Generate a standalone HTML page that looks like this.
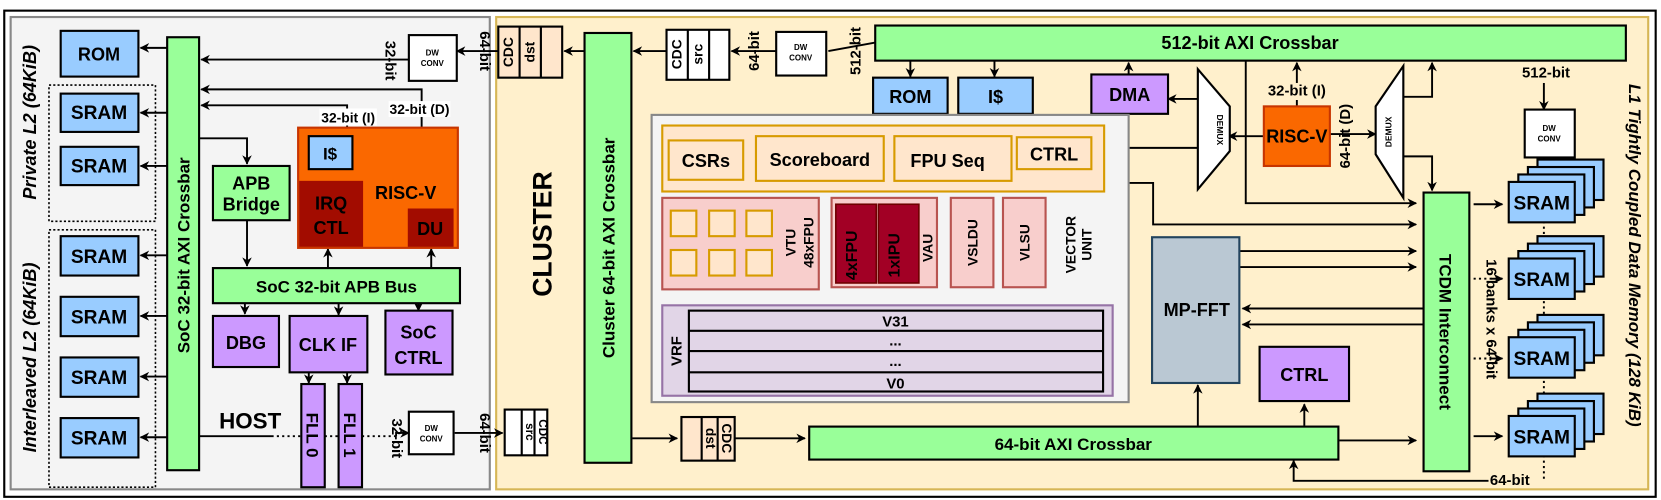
<!DOCTYPE html>
<html><head><meta charset="utf-8"><style>
html,body{margin:0;padding:0;background:#fff;}
svg{display:block;}
text{font-family:"Liberation Sans",Arial,sans-serif;font-weight:bold;fill:#000;}
</style></head><body>
<svg width="1661" height="500" viewBox="0 0 1560 470" preserveAspectRatio="none" xmlns="http://www.w3.org/2000/svg">
<defs>
<marker id="a" viewBox="0 0 10 10" refX="9" refY="5" markerWidth="5" markerHeight="5" orient="auto-start-reverse"><path d="M0,0 L10,5 L0,10 L3,5 z" fill="#000"/></marker>
</defs>
<rect x="4" y="10" width="1551" height="457" fill="#fff" stroke="#000" stroke-width="2"/>
<rect x="10" y="16" width="450" height="444" fill="#f4f4f4" stroke="#888" stroke-width="2"/>
<rect x="466" y="16" width="1082" height="444" fill="#fff0cc" stroke="#d6b656" stroke-width="2"/>

<g stroke="#000" stroke-width="1.8" fill="none">
<line x1="157" y1="45" x2="132" y2="45" marker-end="url(#a)"/>
<line x1="157" y1="106" x2="132" y2="106" marker-end="url(#a)"/>
<line x1="157" y1="156" x2="132" y2="156" marker-end="url(#a)"/>
<line x1="157" y1="240" x2="132" y2="240" marker-end="url(#a)"/>
<line x1="157" y1="297" x2="132" y2="297" marker-end="url(#a)"/>
<line x1="157" y1="354" x2="132" y2="354" marker-end="url(#a)"/>
<line x1="157" y1="411" x2="132" y2="411" marker-end="url(#a)"/>
<line x1="384" y1="56" x2="189" y2="56" marker-end="url(#a)"/>
<line x1="468" y1="48" x2="429" y2="48" marker-end="url(#a)"/>
<polyline points="396,120 396,84 189,84" marker-end="url(#a)"/>
<polyline points="326,120 326,99 189,99" marker-end="url(#a)"/>
<polyline points="186,130 232,130 232,154" marker-end="url(#a)"/>
<line x1="232" y1="207" x2="232" y2="250" marker-end="url(#a)"/>
<line x1="308" y1="252" x2="308" y2="234" marker-end="url(#a)"/>
<line x1="405" y1="252" x2="405" y2="234" marker-end="url(#a)"/>
<line x1="230" y1="285" x2="230" y2="295" marker-end="url(#a)"/>
<line x1="318" y1="285" x2="318" y2="296" marker-end="url(#a)"/>
<line x1="393" y1="285" x2="393" y2="292" marker-end="url(#a)"/>
<line x1="290" y1="350" x2="290" y2="360" marker-end="url(#a)"/>
<line x1="326" y1="350" x2="326" y2="360" marker-end="url(#a)"/>
<line x1="186" y1="410" x2="255" y2="410"/>
<line x1="255" y1="410" x2="372" y2="410" stroke-dasharray="2,3"/>
<polyline points="372,410 372,407 384,407" marker-end="url(#a)"/>
<line x1="427" y1="407" x2="472" y2="407" marker-end="url(#a)"/>
<line x1="549" y1="48" x2="530" y2="48" marker-end="url(#a)"/>
<line x1="626" y1="48" x2="595" y2="48" marker-end="url(#a)"/>
<line x1="729" y1="48" x2="687" y2="48" marker-end="url(#a)"/>
<line x1="822" y1="40" x2="778" y2="48" />
<line x1="855" y1="57" x2="855" y2="72" marker-end="url(#a)"/>
<line x1="934" y1="57" x2="934" y2="72" marker-end="url(#a)"/>
<line x1="1060" y1="70" x2="1060" y2="59" marker-end="url(#a)"/>
<line x1="1125" y1="93" x2="1097" y2="93" marker-end="url(#a)"/>
<line x1="1187" y1="128" x2="1154" y2="128" marker-end="url(#a)"/>
<line x1="1218" y1="100" x2="1218" y2="59" marker-end="url(#a)" stroke-dasharray="18,3,40"/>
<line x1="1249" y1="126" x2="1292" y2="126" marker-end="url(#a)"/>
<polyline points="1318,91 1345,91 1345,59" marker-end="url(#a)"/>
<polyline points="1318,147 1345,147 1345,179" marker-end="url(#a)"/>
<polyline points="1170,57 1170,191 1330,191" marker-end="url(#a)"/>
<polyline points="1125,139 1040,139 1032,139" marker-end="url(#a)"/>
<polyline points="950,172 1083,172 1083,211 1330,211" marker-end="url(#a)"/>
<line x1="1450" y1="78" x2="1450" y2="103" marker-end="url(#a)"/>
<line x1="1450" y1="148" x2="1450" y2="450" stroke-dasharray="2,3"/>
<line x1="1384" y1="192" x2="1411" y2="192" marker-end="url(#a)"/>
<line x1="1384" y1="262" x2="1411" y2="262" stroke-dasharray="2,3"/>
<line x1="1400" y1="262" x2="1411" y2="262" marker-end="url(#a)"/>
<line x1="1384" y1="337" x2="1411" y2="337" stroke-dasharray="2,3"/>
<line x1="1400" y1="337" x2="1411" y2="337" marker-end="url(#a)"/>
<line x1="1384" y1="410" x2="1411" y2="410" marker-end="url(#a)"/>
<line x1="1164" y1="236" x2="1330" y2="236" marker-end="url(#a)"/>
<line x1="1164" y1="251" x2="1330" y2="251" marker-end="url(#a)"/>
<line x1="1337" y1="290" x2="1167" y2="290" marker-end="url(#a)"/>
<line x1="1337" y1="305" x2="1167" y2="305" marker-end="url(#a)"/>
<line x1="1125" y1="400" x2="1125" y2="362" marker-end="url(#a)"/>
<line x1="1225" y1="400" x2="1225" y2="380" marker-end="url(#a)"/>
<line x1="1258" y1="414" x2="1330" y2="414" marker-end="url(#a)"/>
<polyline points="1400,452 1215,452 1215,433" marker-end="url(#a)"/>
<line x1="594" y1="412" x2="636" y2="412" marker-end="url(#a)"/>
<line x1="690" y1="412" x2="756" y2="412" marker-end="url(#a)"/>
</g>

<g stroke="#000" stroke-width="2">
<rect x="57" y="29" width="73" height="43" fill="#99ccff"/>
<rect x="57" y="88" width="73" height="36" fill="#99ccff"/>
<rect x="57" y="138" width="73" height="36" fill="#99ccff"/>
<rect x="57" y="222" width="73" height="37" fill="#99ccff"/>
<rect x="57" y="279" width="73" height="37" fill="#99ccff"/>
<rect x="57" y="336" width="73" height="37" fill="#99ccff"/>
<rect x="57" y="393" width="73" height="37" fill="#99ccff"/>
<rect x="157" y="35" width="30" height="407" fill="#99ff99"/>
<rect x="200" y="156" width="72" height="51" fill="#99ff99"/>
<rect x="200" y="252" width="232" height="33" fill="#99ff99"/>
<rect x="200" y="297" width="62" height="48" fill="#cc99ff"/>
<rect x="272" y="297" width="73" height="53" fill="#cc99ff"/>
<rect x="362" y="292" width="63" height="60" fill="#cc99ff"/>
<rect x="283" y="361" width="22" height="97" fill="#cc99ff"/>
<rect x="318" y="361" width="22" height="97" fill="#cc99ff"/>
<rect x="384" y="33" width="45" height="43" fill="#fff"/>
<rect x="384" y="387" width="42" height="40" fill="#fff"/>
</g>
<g fill="none" stroke="#000" stroke-width="1.5" stroke-dasharray="2,2">
<rect x="46" y="80" width="100" height="128"/>
<rect x="46" y="216" width="100" height="242"/>
</g>
<rect x="280" y="120" width="150" height="113" fill="#fa6800" stroke="#c73500" stroke-width="2"/>
<rect x="290" y="128" width="41" height="31" fill="#99ccff" stroke="#000" stroke-width="2"/>
<rect x="281" y="170" width="60" height="62" fill="#a20c00"/>
<rect x="383" y="196" width="43" height="36" fill="#a20c00"/>

<g font-size="17" text-anchor="middle">
<text x="93" y="57">ROM</text>
<text x="93" y="112" font-size="18">SRAM</text>
<text x="93" y="162" font-size="18">SRAM</text>
<text x="93" y="247" font-size="18">SRAM</text>
<text x="93" y="304" font-size="18">SRAM</text>
<text x="93" y="361" font-size="18">SRAM</text>
<text x="93" y="418" font-size="18">SRAM</text>
<text x="236" y="178">APB</text>
<text x="236" y="198">Bridge</text>
<text x="310" y="150" font-size="16">I$</text>
<text x="311" y="197" fill="#fff">IRQ</text>
<text x="311" y="220" fill="#fff">CTL</text>
<text x="404" y="221" fill="#fff">DU</text>
<text x="381" y="187">RISC-V</text>
<text x="316" y="275" font-size="16">SoC 32-bit APB Bus</text>
<text x="231" y="328">DBG</text>
<text x="308" y="330">CLK IF</text>
<text x="393" y="318">SoC</text>
<text x="393" y="342">CTRL</text>
<text x="235" y="403" font-size="21">HOST</text>
<text transform="translate(178,240) rotate(-90)" font-size="16">SoC 32-bit AXI Crossbar</text>
<text transform="translate(288,409) rotate(90)" font-size="16">FLL 0</text>
<text transform="translate(323,409) rotate(90)" font-size="16">FLL 1</text>
<text transform="translate(34,115) rotate(-90)" font-style="italic" font-weight="normal" font-size="17">Private L2 (64KiB)</text>
<text transform="translate(34,336) rotate(-90)" font-style="italic" font-weight="normal" font-size="17">Interleaved L2 (64KiB)</text>
</g>
<g font-size="14" text-anchor="middle">
<rect x="300" y="102" width="54" height="16" fill="#fff"/>
<text x="327" y="115" font-size="13">32-bit (I)</text>
<rect x="365" y="95" width="58" height="15" fill="#fff"/>
<text x="394" y="107" font-size="13">32-bit (D)</text>
<text transform="translate(362,57) rotate(90)">32-bit</text>
<text transform="translate(451,48) rotate(90)">64-bit</text>
<text transform="translate(368,412) rotate(90)">32-bit</text>
<text transform="translate(451,407) rotate(90)">64-bit</text>
<text font-size="7.5" x="406" y="52">DW</text><text font-size="7.5" x="406" y="62">CONV</text>
<text font-size="7.5" x="405" y="405">DW</text><text font-size="7.5" x="405" y="415">CONV</text>
</g>

<g stroke="#000" stroke-width="2">
<rect x="468" y="25" width="60" height="48" fill="#ffe6cc"/>
<line x1="488" y1="25" x2="488" y2="73"/><line x1="508" y1="25" x2="508" y2="73"/>
<rect x="626" y="28" width="59" height="47" fill="#fff"/>
<line x1="646" y1="28" x2="646" y2="75"/><line x1="666" y1="28" x2="666" y2="75"/>
<rect x="474" y="385" width="40" height="43" fill="#fff"/>
<line x1="490" y1="385" x2="490" y2="428"/><line x1="502" y1="385" x2="502" y2="428"/>
<rect x="640" y="392" width="50" height="41" fill="#ffe6cc"/>
<line x1="659" y1="392" x2="659" y2="433"/><line x1="674" y1="392" x2="674" y2="433"/>
<rect x="549" y="31" width="44" height="404" fill="#99ff99"/>
<rect x="729" y="30" width="47" height="41" fill="#fff"/>
<rect x="822" y="24" width="705" height="33" fill="#99ff99"/>
<rect x="820" y="73" width="70" height="34" fill="#99ccff"/>
<rect x="900" y="73" width="70" height="34" fill="#99ccff"/>
<rect x="1025" y="70" width="72" height="37" fill="#cc99ff"/>
<rect x="1432" y="103" width="47" height="45" fill="#fff"/>
<rect x="1337" y="181" width="43" height="262" fill="#99ff99"/>
<rect x="760" y="401" width="497" height="31" fill="#99ff99"/>
<rect x="1183" y="326" width="84" height="51" fill="#cc99ff"/>
</g>
<path d="M1125,65 L1155,100 L1155,142 L1125,178 Z" fill="#fff" stroke="#000" stroke-width="2"/>
<path d="M1318,62 L1292,100 L1292,145 L1318,186 Z" fill="#fff" stroke="#000" stroke-width="2"/>
<rect x="1187" y="100" width="62" height="56" fill="#fa6800" stroke="#c73500" stroke-width="2"/>
<rect x="1082" y="223" width="82" height="137" fill="#bac8d3" stroke="#23445d" stroke-width="2"/>

<rect x="612" y="108" width="448" height="270" fill="#f4f4f4" stroke="#888" stroke-width="2"/>
<g stroke="#d79b00" stroke-width="2" fill="#ffe6cc">
<rect x="622" y="118" width="415" height="62"/>
<rect x="628" y="132" width="70" height="37"/>
<rect x="710" y="128" width="120" height="42"/>
<rect x="840" y="128" width="110" height="42"/>
<rect x="955" y="129" width="70" height="30"/>
</g>
<g stroke="#b85450" stroke-width="2" fill="#f8cecc">
<rect x="622" y="186" width="147" height="86"/>
<rect x="781" y="186" width="99" height="84"/>
<rect x="893" y="186" width="40" height="84"/>
<rect x="942" y="186" width="40" height="84"/>
</g>
<g stroke="#d79b00" stroke-width="2" fill="#ffe6cc">
<rect x="630" y="198" width="24" height="24"/><rect x="666" y="198" width="24" height="24"/><rect x="701" y="198" width="24" height="24"/>
<rect x="630" y="235" width="24" height="24"/><rect x="666" y="235" width="24" height="24"/><rect x="701" y="235" width="24" height="24"/>
</g>
<rect x="785" y="192" width="38" height="74" fill="#a20025" stroke="#6f0000" stroke-width="1.5"/>
<rect x="825" y="192" width="38" height="74" fill="#a20025" stroke="#6f0000" stroke-width="1.5"/>
<rect x="622" y="287" width="423" height="85" fill="#e1d5e7" stroke="#9673a6" stroke-width="2"/>
<g stroke="#000" stroke-width="2" fill="#e1d5e7">
<rect x="647" y="292" width="389" height="76"/>
<line x1="647" y1="311" x2="1036" y2="311"/><line x1="647" y1="330" x2="1036" y2="330"/><line x1="647" y1="350" x2="1036" y2="350"/>
</g>

<g stroke="#000" stroke-width="2" fill="#99ccff">
<rect x="1444" y="150" width="62" height="38"/><rect x="1435" y="157" width="62" height="38"/><rect x="1426" y="164" width="62" height="38"/><rect x="1417" y="171" width="62" height="38"/>
<rect x="1444" y="222" width="62" height="38"/><rect x="1435" y="229" width="62" height="38"/><rect x="1426" y="236" width="62" height="38"/><rect x="1417" y="243" width="62" height="38"/>
<rect x="1444" y="296" width="62" height="38"/><rect x="1435" y="303" width="62" height="38"/><rect x="1426" y="310" width="62" height="38"/><rect x="1417" y="317" width="62" height="38"/>
<rect x="1444" y="370" width="62" height="38"/><rect x="1435" y="377" width="62" height="38"/><rect x="1426" y="384" width="62" height="38"/><rect x="1417" y="391" width="62" height="38"/>
</g>

<g font-size="17" text-anchor="middle">
<text x="1174" y="46" font-size="17">512-bit AXI Crossbar</text>
<text x="855" y="97">ROM</text>
<text x="935" y="97">I$</text>
<text x="1061" y="95">DMA</text>
<text x="1218" y="134">RISC-V</text>
<text x="1008" y="423" font-size="16">64-bit AXI Crossbar</text>
<text x="1124" y="297">MP-FFT</text>
<text x="1225" y="358">CTRL</text>
<text x="663" y="157">CSRs</text>
<text x="770" y="156">Scoreboard</text>
<text x="890" y="157">FPU Seq</text>
<text x="990" y="151">CTRL</text>
<text x="841" y="307" font-size="14">V31</text>
<text x="841" y="325" font-size="14">...</text>
<text x="841" y="344" font-size="14">...</text>
<text x="841" y="365" font-size="14">V0</text>
<text x="1448" y="197" font-size="18">SRAM</text>
<text x="1448" y="269" font-size="18">SRAM</text>
<text x="1448" y="343" font-size="18">SRAM</text>
<text x="1448" y="417" font-size="18">SRAM</text>
<text transform="translate(518,220) rotate(-90)" font-size="25">CLUSTER</text>
<text transform="translate(577,233) rotate(-90)" font-size="16">Cluster 64-bit  AXI Crossbar</text>
<text transform="translate(1352,312) rotate(90)" font-size="16">TCDM Interconnect</text>
<text transform="translate(1530,240) rotate(90)" font-size="16" font-style="italic" font-weight="normal">L1 Tightly Coupled Data Memory (128 KiB)</text>
<text transform="translate(805,240) rotate(-90)" font-size="15" fill="#fff">4xFPU</text>
<text transform="translate(845,240) rotate(-90)" font-size="15" fill="#fff">1xIPU</text>
<text transform="translate(876,233) rotate(-90)" font-size="13">VAU</text>
<text transform="translate(918,228) rotate(-90)" font-size="13">VSLDU</text>
<text transform="translate(967,228) rotate(-90)" font-size="13">VLSU</text>
<text transform="translate(747,228) rotate(-90)" font-size="13">VTU</text>
<text transform="translate(764,228) rotate(-90)" font-size="13">48xFPU</text>
<text transform="translate(1010,230) rotate(-90)" font-size="13">VECTOR</text>
<text transform="translate(1025,230) rotate(-90)" font-size="13">UNIT</text>
<text transform="translate(640,330) rotate(-90)" font-size="14">VRF</text>
</g>
<g font-size="14" text-anchor="middle">
<text transform="translate(482,49) rotate(-90)" font-size="13">CDC</text>
<text transform="translate(502,49) rotate(-90)" font-size="13">dst</text>
<text transform="translate(640,51) rotate(-90)" font-size="13">CDC</text>
<text transform="translate(660,51) rotate(-90)" font-size="13">src</text>
<text transform="translate(494,406) rotate(90)" font-size="11">src</text>
<text transform="translate(506,406) rotate(90)" font-size="11">CDC</text>
<text transform="translate(663,412) rotate(90)" font-size="13">dst</text>
<text transform="translate(678,412) rotate(90)" font-size="13">CDC</text>
<text transform="translate(713,48) rotate(-90)">64-bit</text>
<text transform="translate(808,48) rotate(-90)">512-bit</text>
<rect x="1188" y="78" width="60" height="16" fill="#fff0cc"/>
<text x="1218" y="90">32-bit (I)</text>
<text transform="translate(1268,128) rotate(-90)">64-bit (D)</text>
<text x="1452" y="73">512-bit</text>
<text transform="translate(1396,300) rotate(90)">16 banks x 64-bit</text>
<rect x="1398" y="443" width="40" height="14" fill="#fff0cc"/>
<text x="1418" y="456">64-bit</text>
<text font-size="7.5" x="752" y="47">DW</text><text font-size="7.5" x="752" y="57">CONV</text>
<text font-size="7.5" x="1455" y="123">DW</text><text font-size="7.5" x="1455" y="133">CONV</text>
<text transform="translate(1143,122) rotate(90)" font-size="8">DEMUX</text>
<text transform="translate(1307,124) rotate(-90)" font-size="8">DEMUX</text>
</g>
</svg>
</body></html>
